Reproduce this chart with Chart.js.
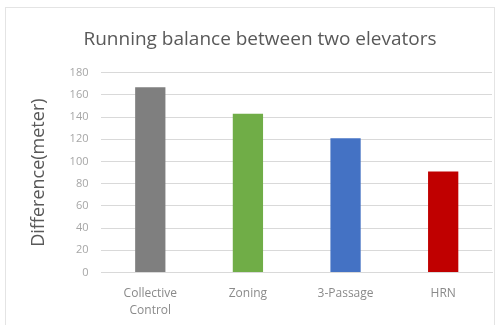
<!DOCTYPE html>
<html>
<head>
<meta charset="utf-8">
<script src="https://cdn.jsdelivr.net/npm/chart.js@4"></script>
<style>
  body { margin: 0; background: #fff; }
  #wrap { position: relative; width: 500px; height: 325px; }
  #frame { position: absolute; left: 5px; top: 7px; width: 488px; height: 330px; border: 1px solid #e4e4e4; }
  canvas { position: absolute; left: 0; top: 0; }
</style>
</head>
<body>
<div id="wrap">
  <div id="frame"></div>
  <canvas id="barChart" width="500" height="325"></canvas>
</div>
<script>
// categories and values
const categories = [['Collective', 'Control'], 'Zoning', '3-Passage', 'HRN']
const differences = [167, 143, 121, 91]
const barColors = ['#7f7f7f', '#70ad47', '#4472c4', '#c00000']
const yTicks = [0, 20, 40, 60, 80, 100, 120, 140, 160, 180]

const fontFamily = "'Open Sans', 'Noto Sans', sans-serif"

const ctx = document.getElementById('barChart').getContext('2d')

const config = {
  type: 'bar',
  data: {
    labels: categories,
    datasets: [{
      label: 'Difference',
      data: differences,
      backgroundColor: barColors,
      barPercentage: 0.31,
      categoryPercentage: 1.0
    }]
  },
  options: {
    responsive: false,
    animation: false,
    layout: {
      padding: { left: 28, right: 8, top: 28, bottom: -7 }
    },
    scales: {
      x: {
        grid: { display: false, drawTicks: false },
        border: { color: '#d9d9d9' },
        ticks: {
          color: '#8a8a8a',
          font: { family: fontFamily, size: 12, lineHeight: 1.4 },
          padding: 13,
          maxRotation: 0
        }
      },
      y: {
        min: 0,
        max: 180,
        afterBuildTicks: function(axis) {
          axis.ticks = yTicks.map(v => ({ value: v }))
        },
        grid: { color: '#d9d9d9', drawTicks: false },
        border: { display: false },
        ticks: {
          color: '#a6a6a6',
          font: { family: fontFamily, size: 11 },
          padding: 13
        },
        title: {
          display: true,
          text: 'Difference(meter)',
          color: '#595959',
          font: { family: fontFamily, size: 18 },
          padding: { top: 0, bottom: 7 }
        }
      }
    },
    plugins: {
      legend: { display: false },
      tooltip: { enabled: false },
      title: {
        display: true,
        text: 'Running balance between two elevators',
        color: '#595959',
        font: { family: fontFamily, size: 19, weight: 'normal' },
        padding: { top: 0, bottom: 22 }
      }
    }
  }
}

new Chart(ctx, config)
</script>
</body>
</html>
